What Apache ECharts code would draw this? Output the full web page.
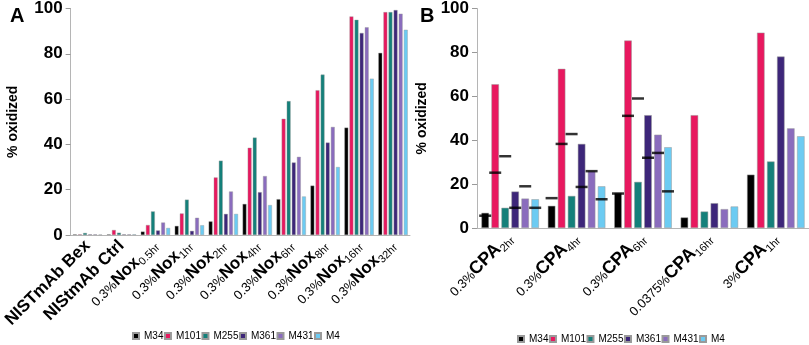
<!DOCTYPE html>
<html>
<head>
<meta charset="utf-8">
<script src="https://cdn.jsdelivr.net/npm/echarts@6/dist/echarts.min.js"></script>
<style>
html, body { margin: 0; padding: 0; background: #fff; }
#chart { width: 809px; height: 345px; }
</style>
</head>
<body>
<div id="chart"></div>
<script>
// 变体名称和颜色
const variants = ["M34", "M101", "M255", "M361", "M431", "M4"];
const colors = ["#000000", "#e8185f", "#14807a", "#3d2679", "#8a6cbd", "#6ccbf2"];
const yTicks = [0, 20, 40, 60, 80, 100];

// A: Nox 时间序列
const catsA = ["NISTmAb Bex", "NIStmAb Ctrl", "0.3%Nox0.5hr", "0.3%Nox1hr", "0.3%Nox2hr",
    "0.3%Nox4hr", "0.3%Nox6hr", "0.3%Nox8hr", "0.3%Nox16hr", "0.3%Nox32hr"];
const m34A = [0.3, 0.3, 1.5, 4.0, 6.0, 13.7, 15.8, 21.8, 47.4, 80.4];
const m101A = [0.3, 2.2, 4.4, 9.5, 25.4, 38.5, 51.3, 63.9, 96.5, 98.4];
const m255A = [0.9, 1.0, 10.4, 15.6, 32.8, 43.0, 59.1, 70.8, 95.0, 98.4];
const m361A = [0.3, 0.3, 2.0, 1.8, 9.3, 18.9, 32.0, 40.8, 89.2, 99.3];
const m431A = [0.3, 0.3, 5.5, 7.6, 19.2, 26.0, 34.5, 47.7, 91.7, 97.7];
const m4A = [0.2, 0.3, 3.1, 4.3, 9.3, 13.2, 17.0, 30.0, 69.0, 90.6];

// B: CPA 条件
const catsB = ["0.3%CPA2hr", "0.3%CPA4hr", "0.3%CPA6hr", "0.0375%CPA16hr", "3%CPA1hr"];
const m34B = [6.9, 10.1, 16.0, 4.8, 24.3];
const m101B = [65.5, 72.5, 85.4, 51.4, 89.0];
const m255B = [9.2, 14.6, 21.0, 7.5, 30.3];
const m361B = [16.6, 38.3, 51.4, 11.3, 78.1];
const m431B = [13.4, 25.9, 42.5, 8.6, 45.4];
const m4B = [13.1, 19.0, 36.8, 9.8, 41.8];
// 黑色短线标记（只有前三个条件）
const markM34B = [5.6, 13.6, 15.7];
const markM101B = [25.2, 38.3, 51.1];
const markM255B = [32.7, 42.8, 59.0];
const markM361B = [9.2, 18.7, 32.0];
const markM431B = [19.0, 25.9, 34.2];
const markM4B = [9.2, 13.1, 16.7];

const valuesA = [m34A, m101A, m255A, m361A, m431A, m4A];
const valuesB = [m34B, m101B, m255B, m361B, m431B, m4B];
const marksB = [markM34B, markM101B, markM255B, markM361B, markM431B, markM4B];

const FONT = "'Liberation Sans', Arial, sans-serif";
const gridA = { left: 70, top: 7, width: 340, height: 228 };
const gridB = { left: 477, top: 7, width: 332, height: 221 };
const barWA = 3.8, gapA = 1.3;
const barWB = 7.5, gapB = 2.5;

function catLabel(v) {
    let m = v.match(/^([\d.]+%)(Nox|CPA)(.+)$/);
    if (!m) return "{n|" + v + "}";
    return "{a|" + m[1] + "}{b|" + m[2] + "}{s|" + m[3] + "}";
}

function xAxisFor(grid, data, big) {
    return {
        type: "category",
        gridIndex: grid,
        data: data,
        axisLine: { lineStyle: { color: "#b5b5b5", width: 1 } },
        axisTick: { alignWithLabel: true, length: 5, lineStyle: { color: "#999" } },
        axisLabel: {
            interval: 0,
            rotate: 45,
            margin: 8,
            formatter: catLabel,
            rich: {
                n: { fontFamily: FONT, fontSize: 17, fontWeight: "bold", color: "#000" },
                a: { fontFamily: FONT, fontSize: 13, color: "#000", verticalAlign: "bottom", padding: [0, 0, 3, 0] },
                b: { fontFamily: FONT, fontSize: big, fontWeight: "bold", color: "#000", verticalAlign: "bottom", padding: [0, 0, 2, 0] },
                s: { fontFamily: FONT, fontSize: 11, color: "#000", verticalAlign: "bottom" }
            }
        }
    };
}

function yAxisFor(grid, gap) {
    return {
        type: "value",
        gridIndex: grid,
        min: 0,
        max: 100,
        interval: 20,
        axisLine: { show: true, lineStyle: { color: "#b5b5b5" } },
        axisTick: { show: true, length: 5, lineStyle: { color: "#999" } },
        splitLine: { show: false },
        axisLabel: {
            margin: 8, fontFamily: FONT, fontSize: 17, fontWeight: "bold", color: "#000",
            formatter: function (v) { return yTicks.indexOf(v) >= 0 ? String(v) : ""; }
        },
        name: "% oxidized",
        nameLocation: "middle",
        nameGap: gap,
        nameTextStyle: { fontFamily: FONT, fontSize: 14, fontWeight: "bold", color: "#000" }
    };
}

let series = [];
for (let j = 0; j < variants.length; j++) {
    series.push({
        name: variants[j], type: "bar", xAxisIndex: 0, yAxisIndex: 0,
        barWidth: barWA, barGap: (gapA / barWA * 100) + "%",
        itemStyle: { color: colors[j], borderColor: "#9a9a9a", borderWidth: 0.4 },
        data: valuesA[j]
    });
}
for (let j = 0; j < variants.length; j++) {
    series.push({
        name: variants[j], type: "bar", xAxisIndex: 1, yAxisIndex: 1,
        barWidth: barWB, barGap: (gapB / barWB * 100) + "%",
        itemStyle: { color: colors[j], borderColor: "#9a9a9a", borderWidth: 0.5 },
        data: valuesB[j]
    });
}
// 短线放在对应柱子的中心：用一个隐藏的数值轴换算位置
const strideB = (barWB + gapB) / (gridB.width / catsB.length);
let dashData = [];
for (let j = 0; j < marksB.length; j++) {
    for (let i = 0; i < marksB[j].length; i++) {
        dashData.push([i + 0.5 + (j - 2.5) * strideB, marksB[j][i]]);
    }
}
series.push({
    name: "mark", type: "scatter", xAxisIndex: 2, yAxisIndex: 1,
    symbol: "rect", symbolSize: [12, 2.5], z: 5, silent: true,
    itemStyle: { color: "#000" },
    data: dashData
});

const legendBase = {
    data: variants, icon: "rect", itemWidth: 6, itemHeight: 6, itemGap: 0.5,
    textStyle: { fontFamily: FONT, fontSize: 10, color: "#000" },
    selectedMode: false
};

let myChart = echarts.init(document.getElementById("chart"));
let option = {
    animation: false,
    backgroundColor: "#fff",
    title: [
        { text: "A", left: 5, top: 1, textStyle: { fontFamily: FONT, fontSize: 20, fontWeight: "bold", color: "#000" } },
        { text: "B", left: 415, top: 1, textStyle: { fontFamily: FONT, fontSize: 20, fontWeight: "bold", color: "#000" } }
    ],
    legend: [
        Object.assign({ left: 127, top: 326 }, legendBase),
        Object.assign({ left: 512, top: 329 }, legendBase)
    ],
    grid: [gridA, gridB],
    xAxis: [
        xAxisFor(0, catsA, 17),
        xAxisFor(1, catsB, 18),
        { type: "value", gridIndex: 1, min: 0, max: catsB.length, show: false }
    ],
    yAxis: [yAxisFor(0, 50), yAxisFor(1, 48)],
    series: series
};
myChart.setOption(option);
</script>
</body>
</html>
